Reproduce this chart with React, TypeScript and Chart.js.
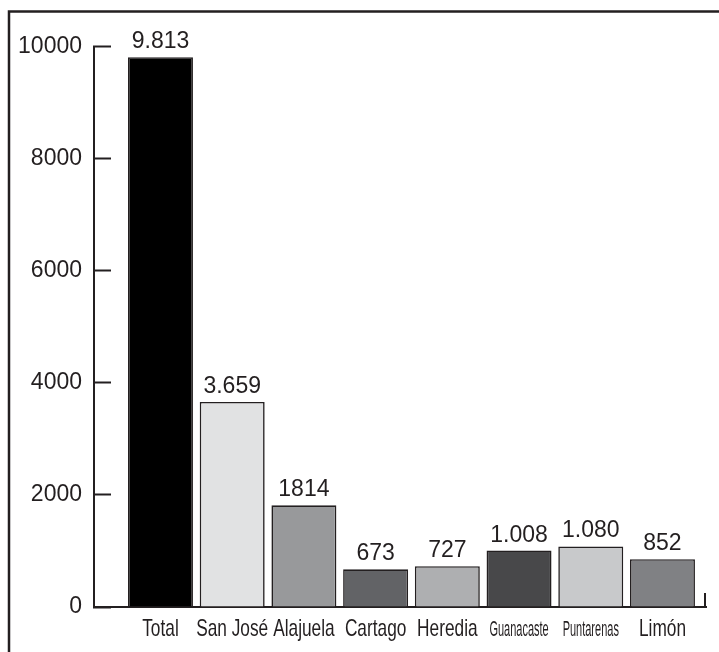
import { useEffect, useRef } from 'react';
import { Chart, registerables } from 'chart.js';

Chart.register(...registerables);

const categories = ['Total', 'San José', 'Alajuela', 'Cartago', 'Heredia', 'Guanacaste', 'Puntarenas', 'Limón'];
const values = [9813, 3659, 1814, 673, 727, 1008, 1080, 852];
const valueLabels = ['9.813', '3.659', '1814', '673', '727', '1.008', '1.080', '852'];
const yMin = 0;
const yMax = 10000;
const yStep = 2000;
const barColors = ['#000000', '#e1e2e3', '#98999b', '#626366', '#aeafb1', '#48484a', '#c8c9cb', '#808184'];

const INK = '#231f20';
const SANS = "'Liberation Sans', Arial, Helvetica, sans-serif";

const framePlugin = {
  id: 'frame',
  beforeDraw(chart: any) {
    const { ctx, width, height } = chart;
    ctx.save();
    ctx.fillStyle = '#ffffff';
    ctx.fillRect(0, 0, width, height);
    ctx.strokeStyle = INK;
    ctx.lineWidth = 2.5;
    ctx.beginPath();
    ctx.moveTo(9, height);
    ctx.lineTo(9, 11.5);
    ctx.lineTo(width, 11.5);
    ctx.stroke();
    ctx.restore();
  },
  afterDraw(chart: any) {
    const { ctx, chartArea } = chart;
    ctx.save();
    ctx.strokeStyle = INK;
    ctx.lineWidth = 2;
    ctx.beginPath();
    ctx.moveTo(chartArea.right - 1, chartArea.bottom);
    ctx.lineTo(chartArea.right - 1, chartArea.bottom - 14);
    ctx.stroke();
    ctx.restore();
  },
};

// Condensed category labels (the original uses a narrow face), placed on the x scale.
const categoryLabelPlugin = {
  id: 'categoryLabels',
  afterDraw(chart: any) {
    const { ctx, chartArea } = chart;
    const xScale = chart.scales.x;
    ctx.save();
    ctx.fillStyle = INK;
    ctx.textAlign = 'center';
    ctx.textBaseline = 'alphabetic';
    categories.forEach((label, i) => {
      const long = label.length > 8;
      const size = long ? 22 : 24;
      const squeeze = long ? 0.5 : 0.72;
      ctx.font = `${size}px ${SANS}`;
      ctx.save();
      ctx.translate(xScale.getPixelForValue(i), chartArea.bottom + 29);
      ctx.scale(squeeze, 1);
      ctx.fillText(label, 0, 0);
      ctx.restore();
    });
    ctx.restore();
  },
};

const valueLabelPlugin = {
  id: 'valueLabels',
  afterDatasetsDraw(chart: any) {
    const { ctx } = chart;
    const meta = chart.getDatasetMeta(0);
    ctx.save();
    ctx.fillStyle = INK;
    ctx.font = `23px ${SANS}`;
    ctx.textAlign = 'center';
    ctx.textBaseline = 'alphabetic';
    meta.data.forEach((el: any, i: number) => {
      ctx.fillText(valueLabels[i], el.x, el.y - 9);
    });
    ctx.restore();
  },
};

export default function App() {
  const ref = useRef<HTMLCanvasElement | null>(null);

  useEffect(() => {
    if (!ref.current) return;
    const chart = new Chart(ref.current, {
      type: 'bar',
      data: {
        datasets: [
          {
            data: values.map((v, i) => ({ x: i, y: v })),
            backgroundColor: barColors,
            borderColor: INK,
            borderWidth: 1.6,
            categoryPercentage: 1,
            barPercentage: 0.906,
          },
        ],
      },
      options: {
        animation: false,
        responsive: true,
        maintainAspectRatio: false,
        layout: { padding: { top: 46.7, right: 13, bottom: 0, left: 0 } },
        plugins: {
          legend: { display: false },
          tooltip: { enabled: false },
        },
        scales: {
          x: {
            type: 'linear',
            position: 'bottom',
            min: -0.927,
            max: 7.607,
            offset: false,
            grid: { display: false, drawTicks: false, offset: false },
            border: { display: true, color: INK, width: 2 },
            ticks: {
              display: false,
              stepSize: 1,
              includeBounds: false,
              autoSkip: false,
              maxRotation: 0,
              minRotation: 0,
            },
            afterFit: (s: any) => {
              s.height = 45;
            },
          },
          y: {
            type: 'linear',
            min: yMin,
            max: yMax,
            border: { display: true, color: INK, width: 2 },
            grid: {
              drawOnChartArea: false,
              drawTicks: true,
              tickLength: -17,
              tickWidth: 2,
              tickColor: INK,
            },
            ticks: {
              stepSize: yStep,
              padding: 29,
              color: INK,
              font: { family: SANS, size: 23 },
              callback: (v: any) => String(v),
            },
            afterFit: (s: any) => {
              s.width = 94;
            },
          },
        },
      },
      plugins: [framePlugin, valueLabelPlugin, categoryLabelPlugin],
    } as any);
    return () => chart.destroy();
  }, []);

  return (
    <div style={{ position: 'absolute', left: 0, top: 0, width: 719, height: 652 }}>
      <canvas ref={ref} />
    </div>
  );
}
